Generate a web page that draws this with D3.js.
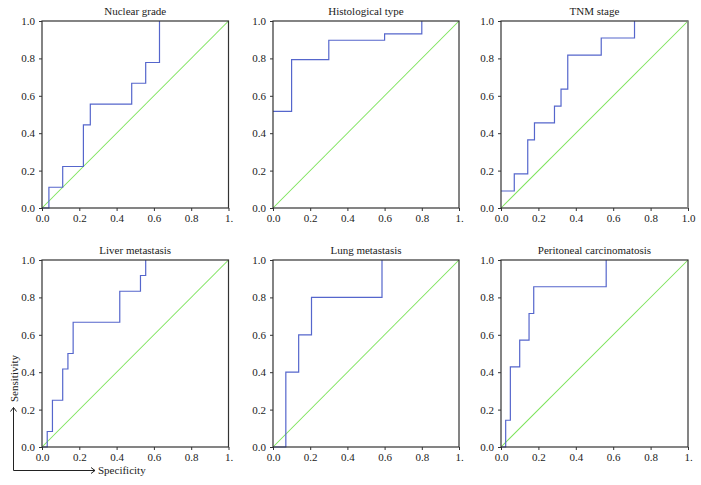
<!DOCTYPE html>
<html><head><meta charset="utf-8">
<script src="https://cdn.jsdelivr.net/npm/d3@7"></script>
<style>body{margin:0;background:#fff}svg{display:block}text{font-family:"Liberation Serif","DejaVu Serif",serif;fill:#222}</style>
</head><body>
<script>
// ---- data ----
const titles = ["Nuclear grade","Histological type","TNM stage","Liver metastasis","Lung metastasis","Peritoneal carcinomatosis"];
const nuclearX = [0, 0.037, 0.111, 0.222, 0.259, 0.481, 0.556, 0.630];
const nuclearY = [0, 0.111, 0.222, 0.444, 0.556, 0.667, 0.778, 1.0];
const histoX = [0, 0.1, 0.3, 0.6, 0.8];
const histoY = [0.517, 0.793, 0.897, 0.931, 1.0];
const tnmX = [0, 0.071, 0.143, 0.179, 0.286, 0.321, 0.357, 0.536, 0.714];
const tnmY = [0.091, 0.182, 0.364, 0.455, 0.545, 0.636, 0.818, 0.909, 1.0];
const liverX = [0, 0.028, 0.056, 0.111, 0.139, 0.167, 0.417, 0.528, 0.556];
const liverY = [0, 0.083, 0.25, 0.417, 0.5, 0.667, 0.833, 0.917, 1.0];
const lungX = [0, 0.069, 0.138, 0.207, 0.586];
const lungY = [0, 0.4, 0.6, 0.8, 1.0];
const periX = [0, 0.025, 0.05, 0.1, 0.15, 0.175, 0.5625];
const periY = [0, 0.143, 0.429, 0.571, 0.714, 0.857, 1.0];
const tickValues = [0, 0.2, 0.4, 0.6, 0.8, 1.0];
const yTickLabels = ["0.0","0.2","0.4","0.6","0.8","1.0"];
const xTickLabels = ["0.0","0.2","0.4","0.6","0.8","1."];
const xTickLabelsTNM = ["0.0","0.2","0.4","0.6","0.8","1.0"];
const axisTitles = ["Sensitivity","Specificity"];

const seriesX = [nuclearX, histoX, tnmX, liverX, lungX, periX];
const seriesY = [nuclearY, histoY, tnmY, liverY, lungY, periY];

// ---- layout ----
const W = 701, H = 485;
const colsX = [[42, 228.5], [273, 459], [501, 688]];
const rowsY = [[21, 208], [260, 447]];

const svg = d3.select("body").append("svg").attr("width", W).attr("height", H);

for (let i = 0; i < 6; i++) {
  const c = i % 3, r = Math.floor(i / 3);
  const [x0, x1] = colsX[c], [y0, y1] = rowsY[r];
  const x = d3.scaleLinear().domain([0, 1]).range([x0, x1]);
  const y = d3.scaleLinear().domain([0, 1]).range([y1, y0]);
  const g = svg.append("g");

  // title
  g.append("text").attr("x", (x0 + x1) / 2).attr("y", y0 - 6)
    .attr("text-anchor", "middle").attr("font-size", 11).text(titles[i]);

  // diagonal
  g.append("line").attr("x1", x(0)).attr("y1", y(0)).attr("x2", x(1)).attr("y2", y(1))
    .attr("stroke", "#7ce35a").attr("stroke-width", 1.05);

  // ROC curve
  const pts = seriesX[i].map((v, k) => [v, seriesY[i][k]]);
  const line = d3.line().x(d => x(d[0])).y(d => y(d[1])).curve(d3.curveStepAfter);
  g.append("path").datum(pts).attr("d", line).attr("fill", "none")
    .attr("stroke", "#5566cc").attr("stroke-width", 1.2);

  // axes
  const xl = (i === 2) ? xTickLabelsTNM : xTickLabels;
  const xa = g.append("g").attr("transform", `translate(0,${y1})`)
    .call(d3.axisBottom(x).tickValues(tickValues).tickSize(3).tickPadding(3)
      .tickFormat((d, k) => xl[k]));
  const ya = g.append("g").attr("transform", `translate(${x0},0)`)
    .call(d3.axisLeft(y).tickValues(tickValues).tickSize(3).tickPadding(4)
      .tickFormat((d, k) => yTickLabels[k]));
  [xa, ya].forEach(a => {
    a.select(".domain").remove();
    a.selectAll("line").attr("stroke", "#333");
    a.selectAll("text").attr("font-size", 11).attr("font-family", "Liberation Serif").attr("fill", "#222");
  });

  // frame
  g.append("rect").attr("x", x0).attr("y", y0).attr("width", x1 - x0).attr("height", y1 - y0)
    .attr("fill", "none").attr("stroke", "#333").attr("stroke-width", 1.2);
  if (i === 2) {
    g.append("line").attr("x1", x1).attr("x2", x1).attr("y1", y0).attr("y2", y1)
      .attr("stroke", "#999").attr("stroke-width", 1.4);
  }
}

// axis direction arrows
const ag = svg.append("g").attr("stroke", "#222").attr("fill", "none").attr("stroke-width", 1);
ag.append("path").attr("d", "M13.5,470.5 V407.5 M10.5,411.5 L13.5,407.5 L16.5,411.5");
ag.append("path").attr("d", "M13.5,470.5 H95 M91,467.5 L95,470.5 L91,473.5");
svg.append("text").attr("x", 98).attr("y", 474).attr("font-size", 11).text(axisTitles[1]);
svg.append("text").attr("transform", "translate(17.5,402) rotate(-90)").attr("font-size", 11).text(axisTitles[0]);
</script>
</body></html>
